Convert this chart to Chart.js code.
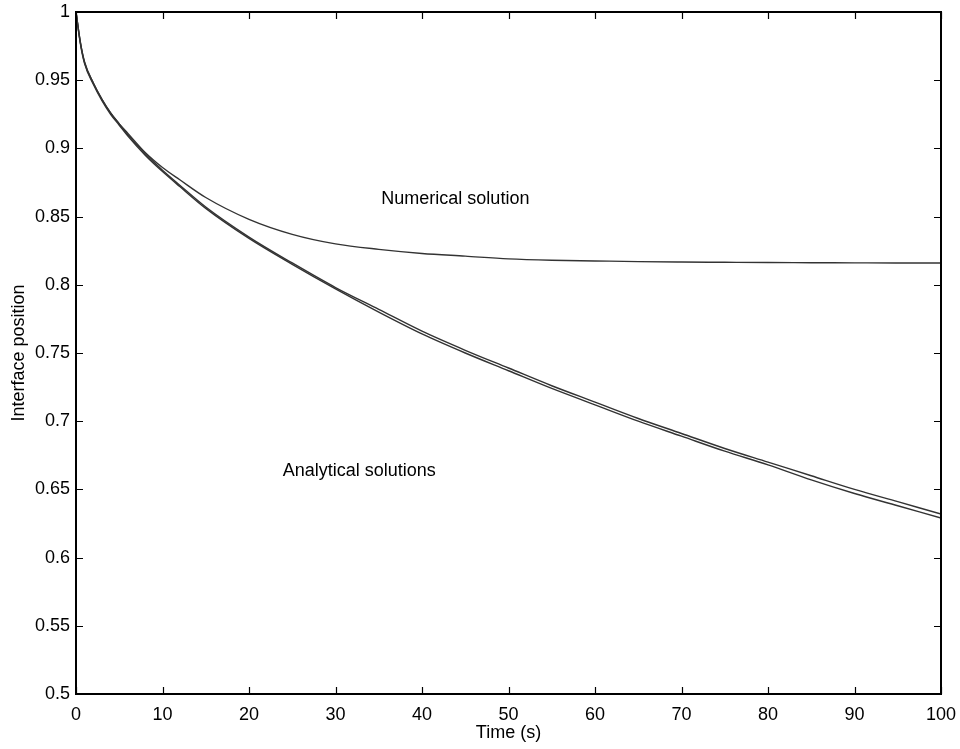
<!DOCTYPE html>
<html>
<head>
<meta charset="utf-8">
<title>Interface position</title>
<script src="https://cdn.jsdelivr.net/npm/chart.js@4/dist/chart.umd.min.js"></script>
<style>
  html, body { margin: 0; padding: 0; background: #fff; }
  #wrap { width: 960px; height: 749px; }
</style>
</head>
<body>
<div id="wrap"><canvas id="interfaceChart"></canvas></div>
<script>
// time samples (s)
var times = [0, 0.5, 1, 2, 3, 4, 5, 6, 8, 10, 12, 15, 20, 25, 30, 35, 40, 45, 50, 55, 60, 65, 70, 75, 80, 85, 90, 95, 100];

var numerical = [1.000, 0.978, 0.963, 0.948, 0.936, 0.926, 0.918, 0.911, 0.897, 0.886, 0.877, 0.864, 0.848, 0.837, 0.830, 0.826, 0.823, 0.821, 0.819, 0.818, 0.8175, 0.817, 0.8167, 0.8165, 0.8163, 0.8162, 0.8161, 0.816, 0.816];

var analyticalA = [1.000, 0.978, 0.963, 0.948, 0.936, 0.926, 0.918, 0.910, 0.896, 0.884, 0.873, 0.857, 0.835, 0.816, 0.798, 0.782, 0.766, 0.752, 0.739, 0.726, 0.714, 0.702, 0.691, 0.680, 0.670, 0.660, 0.650, 0.641, 0.632];

var analyticalB = [1.000, 0.977, 0.962, 0.947, 0.935, 0.925, 0.917, 0.909, 0.895, 0.883, 0.872, 0.856, 0.834, 0.815, 0.797, 0.780, 0.764, 0.750, 0.737, 0.724, 0.712, 0.700, 0.689, 0.678, 0.668, 0.657, 0.647, 0.638, 0.629];

// text labels placed in data coordinates
var notes = [
    { text: 'Numerical solution', x: 35.3, y: 0.863 },
    { text: 'Analytical solutions', x: 23.9, y: 0.6635 }
];

var FONT = "'Liberation Sans', Arial, Helvetica, sans-serif";
var FONT_SIZE = 18;

function toPoints(ys) {
    return times.map(function(t, i) { return { x: t, y: ys[i] }; });
}

function lineSet(label, ys) {
    return {
        label: label,
        data: toPoints(ys),
        borderColor: '#333333',
        borderWidth: 1.4,
        pointRadius: 0,
        fill: false,
        cubicInterpolationMode: 'monotone'
    };
}

// box frame, inward ticks on all four sides, and the curve labels
var frameTicks = {
    id: 'frameTicks',
    afterDraw: function(chart) {
        var ctx = chart.ctx, a = chart.chartArea;
        var xs = chart.scales.x, ys = chart.scales.y;
        var len = 7;
        ctx.save();
        ctx.strokeStyle = '#000';
        ctx.lineWidth = 1.2;
        ctx.beginPath();
        xs.ticks.forEach(function(t) {
            var px = Math.round(xs.getPixelForValue(t.value)) + 0.5;
            ctx.moveTo(px, a.bottom); ctx.lineTo(px, a.bottom - len);
            ctx.moveTo(px, a.top); ctx.lineTo(px, a.top + len);
        });
        ys.ticks.forEach(function(t) {
            var py = Math.round(ys.getPixelForValue(t.value)) + 0.5;
            ctx.moveTo(a.left, py); ctx.lineTo(a.left + len, py);
            ctx.moveTo(a.right, py); ctx.lineTo(a.right - len, py);
        });
        ctx.stroke();
        ctx.lineWidth = 2;
        ctx.strokeRect(a.left, a.top, a.right - a.left, a.bottom - a.top);

        ctx.fillStyle = '#000';
        ctx.font = FONT_SIZE + 'px ' + FONT;
        ctx.textAlign = 'left';
        ctx.textBaseline = 'middle';
        notes.forEach(function(n) {
            ctx.fillText(n.text, xs.getPixelForValue(n.x), ys.getPixelForValue(n.y));
        });
        ctx.restore();
    }
};

new Chart(document.getElementById('interfaceChart'), {
    type: 'line',
    data: {
        datasets: [
            lineSet('Numerical solution', numerical),
            lineSet('Analytical solution 1', analyticalA),
            lineSet('Analytical solution 2', analyticalB)
        ]
    },
    options: {
        responsive: true,
        maintainAspectRatio: false,
        animation: false,
        layout: { padding: { left: 0, top: 12, right: 19, bottom: 0 } },
        plugins: {
            legend: { display: false },
            tooltip: { enabled: false }
        },
        scales: {
            x: {
                type: 'linear',
                min: 0,
                max: 100,
                grid: { display: false, tickLength: 0 },
                border: { display: false },
                ticks: {
                    stepSize: 10,
                    color: '#000',
                    padding: 10,
                    maxRotation: 0,
                    font: { family: FONT, size: FONT_SIZE }
                },
                title: {
                    display: true,
                    text: 'Time (s)',
                    color: '#000',
                    padding: { top: 0, bottom: 5 },
                    font: { family: FONT, size: FONT_SIZE }
                },
                afterFit: function(s) {
                    s.height = 55;
                    s.paddingLeft = 0;
                    s.paddingRight = 0;
                }
            },
            y: {
                min: 0.5,
                max: 1,
                grid: { display: false, tickLength: 0 },
                border: { display: false },
                ticks: {
                    stepSize: 0.05,
                    color: '#000',
                    padding: 6,
                    font: { family: FONT, size: FONT_SIZE },
                    callback: function(v) { return String(+v.toFixed(2)); }
                },
                title: {
                    display: true,
                    text: 'Interface position',
                    color: '#000',
                    padding: { top: 8, bottom: 0 },
                    font: { family: FONT, size: FONT_SIZE }
                },
                afterFit: function(s) {
                    s.width = 76;
                    s.paddingTop = 0;
                    s.paddingBottom = 0;
                }
            }
        }
    },
    plugins: [frameTicks]
});
</script>
</body>
</html>
